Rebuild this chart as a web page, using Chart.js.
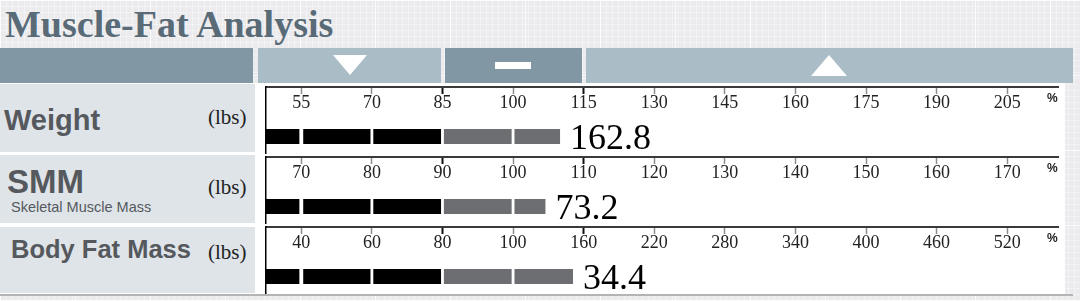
<!DOCTYPE html>
<html>
<head>
<meta charset="utf-8">
<script src="https://cdn.jsdelivr.net/npm/chart.js@4"></script>
<style>
  body { margin:0; width:1080px; height:301px; overflow:hidden; position:relative;
    background-color:#ebebee;
    background-image:
      linear-gradient(90deg, rgba(255,255,255,.8) 1px, transparent 1px),
      linear-gradient(rgba(255,255,255,.8) 1px, transparent 1px),
      linear-gradient(90deg, rgba(255,255,255,.35) 1px, transparent 1px),
      linear-gradient(rgba(255,255,255,.35) 1px, transparent 1px);
    background-size:75px 75px, 75px 75px, 6px 6px, 6px 6px; }
  .abs { position:absolute; white-space:nowrap; line-height:1; }
  .title { left:5px; top:2px; font:bold 38px "Liberation Serif", serif; color:#5a6b78; }
  .band { position:absolute; top:48px; height:35px; }
  .dark { background:#8297a4; }
  .light { background:#aabcc6; }
  .sheet { position:absolute; left:0; top:83px; width:1065px; height:211px; background:#fff; }
  .panel { position:absolute; left:0; width:255px; background:#dfe4e8; }
  .name { font-family:"Liberation Sans", Arial, sans-serif; font-weight:bold; color:#55595e; }
  .unit { font:21px "Liberation Serif", serif; color:#222; }
  .pct { font:bold 12px "Liberation Sans", Arial, sans-serif; color:#222; }
  .row { position:absolute; left:265px; width:800px; height:76px; }
  .bottomline { position:absolute; left:0; top:294px; width:1073px; height:2px; background:#b4b4b4; }
</style>
</head>
<body>
<div class="abs title">Muscle-Fat Analysis</div>

<!-- header band: under / normal / over -->
<div class="band dark" style="left:0;width:253px"></div>
<div class="band light" style="left:258px;width:183px"></div>
<div class="band dark" style="left:445px;width:137px"></div>
<div class="band light" style="left:586px;width:487px"></div>
<div style="position:absolute;left:333px;top:55px;width:0;height:0;border-left:17px solid transparent;border-right:17px solid transparent;border-top:20px solid #fff"></div>
<div style="position:absolute;left:495px;top:62px;width:36px;height:7px;background:#fff"></div>
<div style="position:absolute;left:811px;top:55px;width:0;height:0;border-left:18px solid transparent;border-right:18px solid transparent;border-bottom:21px solid #fff"></div>

<div class="sheet"></div>
<div class="panel" style="top:84px;height:68px"></div>
<div class="panel" style="top:155px;height:68px"></div>
<div class="panel" style="top:227px;height:66px"></div>

<div class="abs name" style="left:4px;top:106px;font-size:29px">Weight</div>
<div class="abs name" style="left:7px;top:165px;font-size:33px">SMM</div>
<div class="abs" style="left:11px;top:199px;font:14.5px 'Liberation Sans', Arial, sans-serif;color:#55595e">Skeletal Muscle Mass</div>
<div class="abs name" style="left:11px;top:237px;font-size:25.5px">Body Fat Mass</div>
<div class="abs unit" style="left:208px;top:105px">(lbs)</div>
<div class="abs unit" style="left:208px;top:175px">(lbs)</div>
<div class="abs unit" style="left:208px;top:240px">(lbs)</div>

<div class="row" style="top:79px"><canvas id="row-weight"></canvas></div>
<div class="row" style="top:149px"><canvas id="row-smm"></canvas></div>
<div class="row" style="top:219px"><canvas id="row-fat"></canvas></div>

<div class="abs pct" style="left:1047px;top:91px">%</div>
<div class="abs pct" style="left:1047px;top:161px">%</div>
<div class="abs pct" style="left:1047px;top:231px">%</div>

<div class="bottomline"></div>

<script>
// scale labels (% of standard) for each row
const weightTicks = [55, 70, 85, 100, 115, 130, 145, 160, 175, 190, 205];
const smmTicks    = [70, 80, 90, 100, 110, 120, 130, 140, 150, 160, 170];
const fatTicks    = [40, 60, 80, 100, 160, 220, 280, 340, 400, 460, 520];

// measured values (lbs) and where the bar ends (% of standard)
const rowNames  = ['Weight', 'SMM', 'Body Fat Mass'];
const lbsValues = ['162.8', '73.2', '34.4'];
const pctValues = [110, 104.6, 151];

// normal range sits between 3rd and 5th tick
const NORMAL_LO = 2, NORMAL_HI = 4;
const AXIS_MIN = -0.5, AXIS_MAX = 10.72;

// % -> position on the evenly spaced tick index scale
function toIndex(ticks, v) {
  for (let k = 0; k < ticks.length - 1; k++) {
    if (v <= ticks[k + 1]) return k + (v - ticks[k]) / (ticks[k + 1] - ticks[k]);
  }
  return ticks.length - 1;
}

const valueLabel = {
  id: 'valueLabel',
  afterDatasetsDraw(chart, args, opts) {
    const metas = chart.getSortedVisibleDatasetMetas();
    const bar = metas[metas.length - 1].data[1];
    const ctx = chart.ctx;
    ctx.save();
    ctx.font = '36px "Liberation Serif"';
    ctx.fillStyle = '#000';
    ctx.textBaseline = 'alphabetic';
    ctx.fillText(opts.text, bar.x + 10, bar.y + 12.5);
    ctx.restore();
  }
};

function makeRow(id, name, ticks, pct, text) {
  const end = toIndex(ticks, pct);
  const edges = [AXIS_MIN];
  for (let i = 0; i < end; i++) edges.push(i);
  edges.push(end);

  const datasets = [];
  for (let s = 0; s < edges.length - 1; s++) {
    const last = s === edges.length - 2;
    datasets.push({
      data: [null, [edges[s], edges[s + 1]]],
      backgroundColor: edges[s + 1] <= NORMAL_LO ? '#000000' : '#6d6e71',
      borderColor: '#ffffff',
      borderWidth: { left: s === 0 ? 0 : 1.75, right: last ? 0 : 1.75, top: 0, bottom: 0 },
      borderSkipped: false,
      barThickness: 15,
      grouped: false
    });
  }

  new Chart(document.getElementById(id), {
    type: 'bar',
    data: { labels: ['', name], datasets },
    options: {
      indexAxis: 'y',
      responsive: true,
      maintainAspectRatio: false,
      animation: false,
      events: [],
      layout: { padding: { left: 1, right: 7, top: 0, bottom: 2 } },
      plugins: { legend: { display: false }, tooltip: { enabled: false }, valueLabel: { text } },
      scales: {
        x: {
          type: 'linear', position: 'top', min: AXIS_MIN, max: AXIS_MAX,
          afterBuildTicks: sc => { sc.ticks = ticks.map((t, i) => ({ value: i })); },
          ticks: {
            mirror: true, padding: 7.5, autoSkip: false, maxRotation: 0,
            color: '#222',
            font: { family: 'Liberation Serif', size: 18, lineHeight: 1 },
            callback: v => ticks[v]
          },
          grid: {
            drawOnChartArea: false, tickLength: -7,
            tickColor: c => (c.index === NORMAL_LO || c.index === NORMAL_HI) ? '#111' : '#8c8c8c',
            tickWidth: c => (c.index === NORMAL_LO || c.index === NORMAL_HI) ? 2 : 1.5
          },
          border: { color: '#3a3a3a', width: 2 }
        },
        y: {
          ticks: { display: false },
          grid: { display: false, drawTicks: false },
          border: { color: '#000', width: 1.5 }
        }
      }
    },
    plugins: [valueLabel]
  });
}

makeRow('row-weight', rowNames[0], weightTicks, pctValues[0], lbsValues[0]);
makeRow('row-smm', rowNames[1], smmTicks, pctValues[1], lbsValues[1]);
makeRow('row-fat', rowNames[2], fatTicks, pctValues[2], lbsValues[2]);
</script>
</body>
</html>
